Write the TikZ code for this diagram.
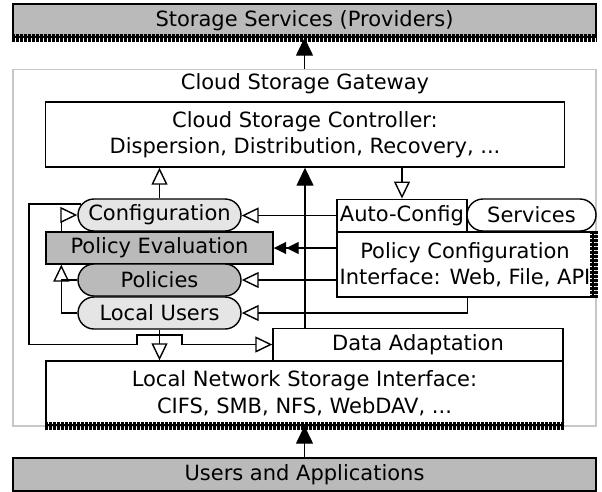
\documentclass[tikz,border=0pt]{standalone}
\usepackage{fontspec}
\setmainfont{DejaVu Sans}
\usetikzlibrary{arrows.meta,shapes.misc,calc}
\definecolor{boxdark}{gray}{0.73}
\definecolor{boxlight}{gray}{0.9}
\definecolor{gwline}{gray}{0.78}
\tikzset{
  every node/.style={font=\fontsize{21}{26.5}\selectfont, inner sep=0pt, align=center},
  plain/.style={draw, line width=1.4pt, fill=white, rectangle},
  dark/.style={plain, fill=boxdark},
  pill/.style={draw, line width=1.4pt, rounded rectangle, fill=boxlight,
               minimum width=163pt, minimum height=32pt},
  conn/.style={line width=1.4pt},
  openarrow/.style={conn, -{Triangle[open,width=16pt,length=17pt,fill=white]}},
  fillarrow/.style={conn, -{Triangle[width=17pt,length=18pt]}},
  dblarrow/.style={conn, -{Triangle[width=12pt,length=12.5pt,sep=0pt]Triangle[width=12pt,length=12.5pt,sep=0pt]}},
  tickband/.style={line width=8pt, dash pattern=on 2.2pt off 1.8pt},
}
\begin{document}
\begin{tikzpicture}[x=1pt,y=-1pt]
\useasboundingbox (0,0) rectangle (602,491);

% gateway frame
\node[draw=gwline, line width=1.4pt, minimum width=583pt, minimum height=356.5pt] (gw) at (304.5,247.75) {};
\node[anchor=base] (gwlabel) at (305,89.5) {Cloud Storage Gateway};

% outer providers and users
\node[dark, minimum width=583pt, minimum height=33pt] (ss) at (304.5,20.5) {Storage Services (Providers)};
\draw[tickband] (ss.south west) -- (ss.south east);
\node[dark, minimum width=583pt, minimum height=33pt] (ua) at (304.5,474.5) {Users and Applications};

% controller
\node[plain, minimum width=518.5pt, minimum height=65pt] (ctrl) at (305,134.5)
  {Cloud Storage Controller:\\Dispersion, Distribution, Recovery, ...};

% policy stack
\node[pill] (conf) at (159.5,215) {Configuration};
\node[dark, minimum width=227pt, minimum height=32pt] (pe) at (159.5,248) {Policy Evaluation};
\node[pill, fill=boxdark] (pol) at (159.5,280) {Policies};
\node[pill] (lu) at (159.5,313) {Local Users};

% configuration side
\node[plain, minimum width=130pt, minimum height=32.5pt] (ac) at (402,215.5) {Auto-Config};
\node[pill, fill=white, minimum width=129pt] (svc) at (531.5,215) {Services};
\node[plain, minimum width=256pt, minimum height=65pt] (pci) at (465,264.5)
  {Policy Configuration\\Interface: Web, File, API};
\draw[tickband] (pci.north east) -- (pci.south east);

% local side
\node[plain, minimum width=517pt, minimum height=64pt] (lns) at (304.5,393)
  {Local Network Storage Interface:\\CIFS, SMB, NFS, WebDAV, ...};
\draw[tickband] (lns.south west) -- (lns.south east);
\node[plain, minimum width=290pt, minimum height=32pt] (da) at (418,344.5) {Data Adaptation};

% connectors
\draw[fillarrow] (gw.north) -- (ss.south);
\draw[fillarrow] (ua.north) -- (lns.south);
\draw[openarrow] (conf.north) -- (conf.north |- ctrl.south);
\draw[openarrow] (ac.north |- ctrl.south) -- (ac.north);
\draw[fillarrow] (ctrl.south |- da.north) -- (ctrl.south);
\draw[openarrow] (ac.west) -- (ac.west -| conf.east);
\draw[dblarrow] (pci.west |- pe.east) -- (pe.east);
\draw[openarrow] (pci.west |- pol.east) -- (pol.east);
\draw[openarrow] (ac.east |- pci.south) -- (ac.east |- lu.east) -- (lu.east);
\draw[openarrow] ([xshift=16pt]pe.north west) |- (conf.west);
\draw[openarrow] (lu.west) -| ([xshift=16pt]pe.south west);
\draw[conn] (pol.west) -- ([xshift=16pt]pe.south west |- pol.west);
\draw[openarrow] (lu.south) -- (lu.south |- lns.north);
\draw[openarrow] (conf.172) -| (29,344.5) -- (137,344.5) -- (137,335) -- (182,335) -- (182,344.5) -- (da.west);
\end{tikzpicture}
\end{document}
